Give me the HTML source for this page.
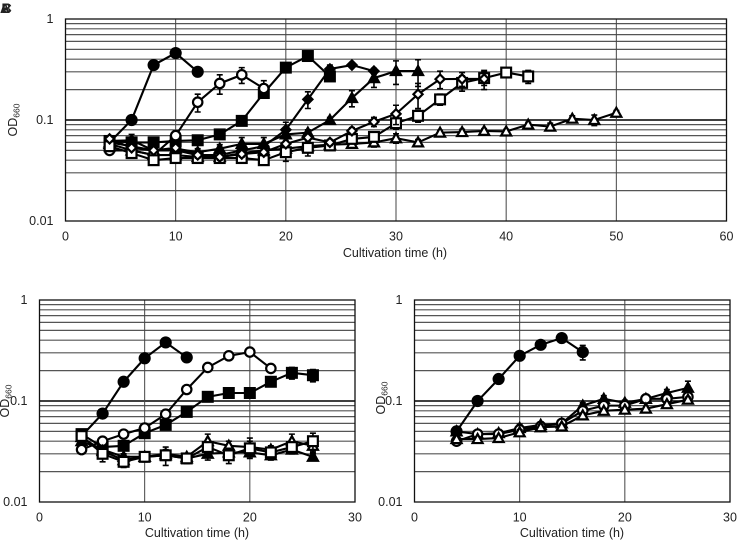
<!DOCTYPE html>
<html>
<head>
<meta charset="utf-8">
<style>
html,body{margin:0;padding:0;background:#fff}
body{width:737px;height:541px;overflow:hidden}
svg{display:block}
text{font-family:"Liberation Sans",sans-serif;fill:#222}
</style>
</head>
<body>
<svg id="chart" width="737" height="541" viewBox="0 0 737 541" xmlns="http://www.w3.org/2000/svg">
<g font-size="13.5" font-weight="bold">
<text x="0" y="13">A</text>
<text x="1.5" y="13">B</text>
<text x="2" y="13">C</text>
</g>
</svg>
<script>
const hours = [4,6,8,10,12,14,16,18,20,22,24,26,28,30,32,34,36,38,40,42,44,46,48,50];
const yTicks = [1,0.1,0.01];
const yTickLabels = ['1','0.1','0.01'];
const minorGrid = [0.02,0.03,0.04,0.05,0.06,0.07,0.08,0.09,0.2,0.3,0.4,0.5,0.6,0.7,0.8,0.9];
const xTicksWide = [0,10,20,30,40,50,60];
const xTicksNarrow = [0,10,20,30];

const aOpenTriangle = [.058,.05,.045,.045,.043,.043,.047,.05,.052,.055,.057,.058,.06,.066,.06,.075,.076,.078,.077,.09,.086,.103,.1,.118];
const aOpenTriangleErr = [.004,.003,.003,.003,.002,.002,.003,.003,.004,.004,.004,.004,.006,.007,.004,.004,.005,.004,.004,.005,.007,.007,.012,.006];
const aFilledCircle = [.06,.1,.35,.46,.3];
const aFilledCircleErr = [.005,.005,.01,.02,.01];
const aFilledSquare = [.062,.06,.06,.062,.063,.072,.098,.185,.33,.43,.27];
const aFilledSquareErr = [.006,.004,.004,.004,.003,.004,.005,.02,.015,.015,.02];
const aFilledTriangle = [.06,.055,.05,.052,.048,.052,.058,.058,.072,.075,.1,.165,.26,.305,.305];
const aFilledTriangleErr = [.005,.004,.004,.005,.004,.005,.009,.009,.006,.005,.006,.03,.05,.08,.09];
const aFilledDiamond = [.062,.063,.05,.05,.045,.045,.05,.055,.08,.16,.32,.35,.305];
const aFilledDiamondErr = [.004,.009,.004,.004,.003,.003,.003,.004,.015,.03,.03,.01,.02];
const aOpenCircle = [.05,.05,.045,.07,.15,.23,.28,.205];
const aOpenCircleErr = [.004,.004,.004,.008,.03,.05,.05,.04];
const aOpenSquare = [.055,.047,.04,.042,.042,.042,.042,.04,.048,.053,.056,.065,.068,.093,.11,.16,.233,.26,.295,.27];
const aOpenSquareErr = [.004,.004,.004,.004,.003,.003,.003,.003,.009,.009,.005,.005,.006,.012,.015,.02,.04,.04,.03,.04];
const aOpenDiamond = [.065,.053,.05,.053,.045,.043,.046,.048,.058,.067,.06,.078,.096,.115,.18,.254,.255,.255];
const aOpenDiamondErr = [.003,.003,.003,.003,.003,.003,.003,.003,.004,.004,.004,.006,.01,.025,.05,.05,.04,.055];

const bFilledCircle = [.045,.075,.155,.265,.38,.27];
const bOpenCircle = [.033,.04,.047,.054,.074,.13,.215,.28,.305,.21];
const bFilledSquare = [.047,.035,.036,.048,.058,.078,.11,.12,.12,.155,.19,.18];
const bFilledSquareErr = [.003,.002,.003,.003,.004,.003,.004,.012,.008,.008,.025,.025];
const bFilledTriangle = [.04,.033,.028,.028,.029,.027,.03,.031,.031,.029,.033,.028];
const bFilledTriangleErr = [.002,.002,.002,.002,.003,.003,.004,.003,.003,.003,.003,.002];
const bOpenTriangle = [.044,.032,.026,.028,.03,.028,.04,.036,.035,.033,.04,.036];
const bOpenTriangleErr = [.002,.002,.002,.002,.003,.002,.007,.004,.008,.003,.007,.005];
const bOpenSquare = [.045,.03,.025,.028,.029,.027,.035,.029,.034,.031,.035,.04];
const bOpenSquareErr = [.003,.005,.003,.003,.006,.003,.003,.005,.006,.003,.004,.008];

const cFilledCircle = [.05,.1,.165,.28,.36,.42,.305];
const cFilledCircleErr = [.004,.004,.006,.01,.01,.01,.05];
const cFilledTriangle = [.05,.047,.048,.054,.058,.06,.09,.105,.096,.105,.12,.135];
const cFilledTriangleErr = [.005,.003,.004,.005,.004,.004,.006,.008,.006,.005,.01,.022];
const cOpenCircle = [.04,.047,.047,.052,.056,.06,.08,.09,.09,.105,.105,.11];
const cOpenCircleErr = [.002,.003,.003,.003,.003,.004,.004,.005,.005,.004,.008,.012];
const cOpenTriangle = [.042,.042,.043,.049,.055,.056,.072,.08,.082,.084,.093,.103];
const cOpenTriangleErr = [.002,.002,.002,.003,.003,.003,.004,.004,.004,.004,.005,.006];

const SVG_NS = 'http://www.w3.org/2000/svg';
const root = document.getElementById('chart');

function make(parent, tag, attrs) {
  const el = document.createElementNS(SVG_NS, tag);
  for (const k in attrs) el.setAttribute(k, attrs[k]);
  parent.appendChild(el);
  return el;
}

function drawMarker(g, shape, open, cx, cy) {
  const style = {fill: open ? '#fff' : '#000', stroke: '#000', 'stroke-width': 2.2, 'stroke-linejoin': 'miter'};
  let m;
  if (shape === 'circle') {
    m = make(g, 'circle', Object.assign({cx: cx, cy: cy, r: open ? 4.7 : 5}, style));
  } else if (shape === 'square') {
    m = make(g, 'rect', Object.assign({x: cx - 4.9, y: cy - 4.9, width: 9.8, height: 9.8}, style));
  } else if (shape === 'triangle') {
    m = make(g, 'polygon', Object.assign({points: `${cx},${cy-5} ${cx+5},${cy+4} ${cx-5},${cy+4}`}, style));
  } else {
    m = make(g, 'polygon', Object.assign({points: `${cx},${cy-4.6} ${cx+4.6},${cy} ${cx},${cy+4.6} ${cx-4.6},${cy}`}, style));
  }
  
  
}

function drawPanel(p) {
  const panel = make(root, 'g', {});
  
  
  const xScale = v => p.left + (v - p.xTicks[0]) / (p.xTicks[p.xTicks.length - 1] - p.xTicks[0]) * (p.right - p.left);
  const yScale = v => p.bottom - (Math.log10(v) + 2) / 2 * (p.bottom - p.top);

  minorGrid.forEach(v => {
    const l = make(panel, 'line', {x1: p.left, x2: p.right, y1: yScale(v), y2: yScale(v), stroke: '#555', 'stroke-width': 1.2});
    
    
  });
  const mid = make(panel, 'line', {x1: p.left, x2: p.right, y1: yScale(0.1), y2: yScale(0.1), stroke: '#000', 'stroke-width': 1.4});
  
  
  p.xTicks.slice(1, -1).forEach(v => {
    const l = make(panel, 'line', {x1: xScale(v), x2: xScale(v), y1: p.top, y2: p.bottom, stroke: '#444', 'stroke-width': 1});
    
    
  });
  const frame = make(panel, 'rect', {x: p.left, y: p.top, width: p.right - p.left, height: p.bottom - p.top, fill: 'none', stroke: '#111', 'stroke-width': 1.3});
  
  

  yTicks.forEach((v, i) => {
    const t = make(panel, 'text', {x: p.left - 12, y: yScale(v) + 4, 'text-anchor': 'end', 'font-size': 12.5});
    t.textContent = yTickLabels[i];
    
    
  });
  p.xTicks.forEach(v => {
    const t = make(panel, 'text', {x: xScale(v), y: p.bottom + 19.5, 'text-anchor': 'middle', 'font-size': 12.5});
    t.textContent = String(v);
    
    
  });
  const xt = make(panel, 'text', {x: p.xTitleX, y: p.bottom + p.xTitleDy, 'text-anchor': 'middle', 'font-size': 12.5});
  xt.textContent = 'Cultivation time (h)';
  
  

  const yt = make(panel, 'text', {transform: `translate(${p.yTitleX},${p.yTitleY}) rotate(-90)`, 'text-anchor': 'middle', 'font-size': 12.5});
  
  
  const s1 = make(yt, 'tspan', {});
  s1.textContent = 'OD';
  const s2 = make(yt, 'tspan', {'font-size': 8.5, dy: 2.5});
  s2.textContent = '660';

  p.series.forEach(s => {
    const g = make(panel, 'g', {});
    
    
    const pts = s.values.map((v, i) => `${xScale(hours[i])},${yScale(v)}`).join(' ');
    const line = make(g, 'polyline', {points: pts, fill: 'none', stroke: '#000', 'stroke-width': 2.1});
    
    
    if (s.err) {
      s.values.forEach((v, i) => {
        const e = s.err[i];
        if (!e) return;
        const x = xScale(hours[i]);
        const y1 = yScale(v + e);
        const y2 = yScale(Math.max(v - e, 0.011));
        const bar = make(g, 'path', {d: `M${x} ${y1}V${y2}M${x-3} ${y1}H${x+3}M${x-3} ${y2}H${x+3}`, fill: 'none', stroke: '#000', 'stroke-width': 1.6});
        
        
      });
    }
    s.values.forEach((v, i) => drawMarker(g, s.shape, s.open, xScale(hours[i]), yScale(v)));
  });
}

drawPanel({
  name: 'panel-a', left: 65.5, right: 726.5, top: 19, bottom: 221, xTicks: xTicksWide,
  xTitleX: 395, xTitleDy: 36, yTitleX: 17, yTitleY: 120,
  series: [
    {name: 'series-a-open-triangle', shape: 'triangle', open: true, values: aOpenTriangle, err: aOpenTriangleErr},
    {name: 'series-a-filled-circle', shape: 'circle', open: false, values: aFilledCircle, err: aFilledCircleErr},
    {name: 'series-a-filled-square', shape: 'square', open: false, values: aFilledSquare, err: aFilledSquareErr},
    {name: 'series-a-filled-triangle', shape: 'triangle', open: false, values: aFilledTriangle, err: aFilledTriangleErr},
    {name: 'series-a-filled-diamond', shape: 'diamond', open: false, values: aFilledDiamond, err: aFilledDiamondErr},
    {name: 'series-a-open-circle', shape: 'circle', open: true, values: aOpenCircle, err: aOpenCircleErr},
    {name: 'series-a-open-square', shape: 'square', open: true, values: aOpenSquare, err: aOpenSquareErr},
    {name: 'series-a-open-diamond', shape: 'diamond', open: true, values: aOpenDiamond, err: aOpenDiamondErr}
  ]
});

drawPanel({
  name: 'panel-b', left: 39.5, right: 355, top: 300, bottom: 502, xTicks: xTicksNarrow,
  xTitleX: 197, xTitleDy: 35, yTitleX: 9, yTitleY: 401,
  series: [
    {name: 'series-b-filled-circle', shape: 'circle', open: false, values: bFilledCircle},
    {name: 'series-b-filled-square', shape: 'square', open: false, values: bFilledSquare, err: bFilledSquareErr},
    {name: 'series-b-filled-triangle', shape: 'triangle', open: false, values: bFilledTriangle, err: bFilledTriangleErr},
    {name: 'series-b-open-circle', shape: 'circle', open: true, values: bOpenCircle},
    {name: 'series-b-open-triangle', shape: 'triangle', open: true, values: bOpenTriangle, err: bOpenTriangleErr},
    {name: 'series-b-open-square', shape: 'square', open: true, values: bOpenSquare, err: bOpenSquareErr}
  ]
});

drawPanel({
  name: 'panel-c', left: 414.5, right: 730, top: 300, bottom: 502, xTicks: xTicksNarrow,
  xTitleX: 572, xTitleDy: 35, yTitleX: 385, yTitleY: 398,
  series: [
    {name: 'series-c-filled-circle', shape: 'circle', open: false, values: cFilledCircle, err: cFilledCircleErr},
    {name: 'series-c-filled-triangle', shape: 'triangle', open: false, values: cFilledTriangle, err: cFilledTriangleErr},
    {name: 'series-c-open-circle', shape: 'circle', open: true, values: cOpenCircle, err: cOpenCircleErr},
    {name: 'series-c-open-triangle', shape: 'triangle', open: true, values: cOpenTriangle, err: cOpenTriangleErr}
  ]
});
</script>
</body>
</html>
